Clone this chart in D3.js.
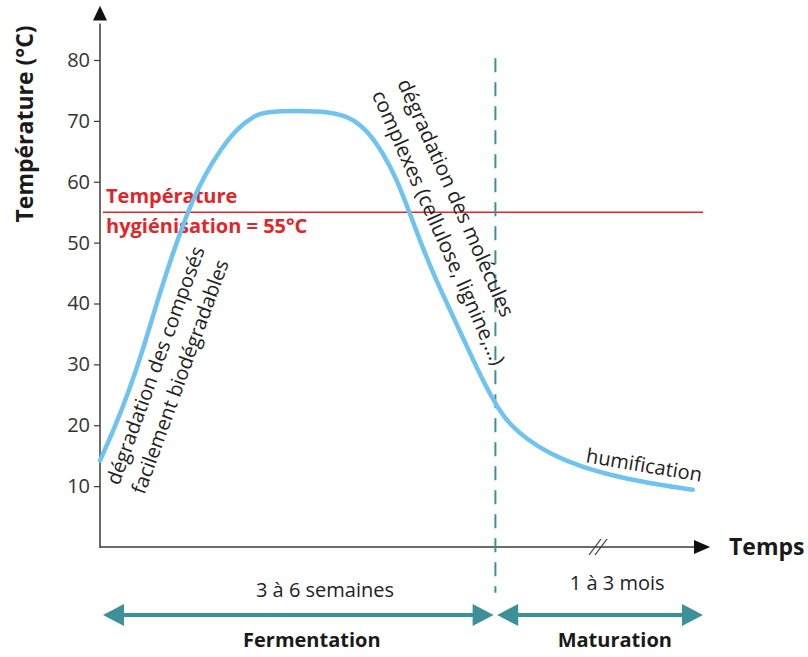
<!DOCTYPE html>
<html>
<head>
<meta charset="utf-8">
<script src="https://cdn.jsdelivr.net/npm/d3@7/dist/d3.min.js"></script>
<style>
  html, body { margin: 0; padding: 0; background: #fff; }
  svg { display: block; font-family: "Open Sans", "Noto Sans", sans-serif; }
</style>
</head>
<body>
<svg id="chart" width="808" height="657"></svg>
<script>
// ---- data ----
const timeValues = [0, 2.5, 4.7, 7, 9.2, 11.3, 13.7, 15.3, 17.5, 20.3, 23, 25.8, 27.5, 33, 38.3, 41.7, 44.5, 47.2, 49.5, 51.2, 53.3, 55.5, 57.8, 60, 62.2, 64.5, 66.7, 68.5, 71, 75, 80, 86.7, 93.3, 98.8];
const tempValues = [14.2, 19.7, 25.3, 31.9, 39.2, 45.8, 52.6, 56.6, 61.2, 65.6, 68.9, 70.9, 71.5, 71.7, 71.5, 70.6, 68.5, 64.7, 60.3, 55.9, 50.4, 45, 40.1, 35.4, 30.7, 26, 22.2, 20, 17.8, 15.3, 13.2, 11.4, 10.2, 9.4];
const yTicks = [10, 20, 30, 40, 50, 60, 70, 80];
const hygieneTemp = 55;
const phaseBoundary = 65.9;     // fermentation / maturation split (time units)
const breakTime = 83;           // axis break "//"
const phaseNames = ["Fermentation", "Maturation"];
const phaseDurations = ["3 à 6 semaines", "1 à 3 mois"];
const phaseStarts = [0.5, 66.2];
const phaseEnds = [65.6, 100.5];

// ---- scales ----
const x = d3.scaleLinear().domain([0, 100]).range([100, 700]);
const y = d3.scaleLinear().domain([0, 80]).range([547, 60]);

const svg = d3.select("#chart");
const axisColor = "#3a3a3a";
const teal = "#3c9098";
const blue = "#6fc3ef";
const red = "#e0262b";

// ---- y axis ----
const yAxis = d3.axisLeft(y).tickValues(yTicks).tickSize(6).tickPadding(4);
const gy = svg.append("g").attr("transform", `translate(${x(0)},0)`).call(yAxis);
gy.select(".domain").remove();
gy.selectAll(".tick line").attr("stroke", axisColor).attr("stroke-width", 1.2);
gy.selectAll(".tick text").attr("fill", "#333").style("font-size", "20px")
  .style("font-family", "'Open Sans', sans-serif");

// axis lines
svg.append("line").attr("x1", x(0)).attr("x2", x(0)).attr("y1", y(0) + 1).attr("y2", y(86))
  .attr("stroke", axisColor).attr("stroke-width", 1.5);
svg.append("path")
  .attr("d", `M${x(0)},${y(88.9)} L${x(0) - 7},${y(86.5)} L${x(0) + 7},${y(86.5)} Z`)
  .attr("fill", "#111");

svg.append("line").attr("x1", x(0)).attr("x2", x(99)).attr("y1", y(0)).attr("y2", y(0))
  .attr("stroke", axisColor).attr("stroke-width", 1.5);
svg.append("path")
  .attr("d", `M${x(101.7)},${y(0)} L${x(99)},${y(0) - 7} L${x(99)},${y(0) + 7} Z`)
  .attr("fill", "#111");

// axis break
[-3, 3].forEach(o => {
  svg.append("line")
    .attr("x1", x(breakTime) + o - 6).attr("y1", y(0) + 8)
    .attr("x2", x(breakTime) + o + 6).attr("y2", y(0) - 8)
    .attr("stroke", axisColor).attr("stroke-width", 1.2);
});

// axis titles
svg.append("text")
  .attr("transform", `translate(33,${y(69.5)}) rotate(-90)`)
  .attr("text-anchor", "middle")
  .style("font-size", "23px").style("font-weight", "bold").attr("fill", "#1a1a1a")
  .text("Température (°C)");
svg.append("text")
  .attr("x", 729).attr("y", y(0) + 8)
  .style("font-size", "23px").style("font-weight", "bold").attr("fill", "#1a1a1a")
  .text("Temps");

// ---- hygiene line ----
svg.append("line")
  .attr("x1", x(0.5)).attr("x2", x(100.5))
  .attr("y1", y(hygieneTemp)).attr("y2", y(hygieneTemp))
  .attr("stroke", red).attr("stroke-width", 1.6);
svg.append("text").attr("x", 106).attr("y", y(hygieneTemp) - 9)
  .style("font-size", "20px").style("font-weight", "bold").attr("fill", red)
  .text("Température");
svg.append("text").attr("x", 106).attr("y", y(hygieneTemp) + 21)
  .style("font-size", "20px").style("font-weight", "bold").attr("fill", red)
  .text("hygiénisation = 55°C");

// ---- phase boundary (dashed) ----
svg.append("line")
  .attr("x1", x(phaseBoundary)).attr("x2", x(phaseBoundary))
  .attr("y1", y(80.3)).attr("y2", y(-7.5))
  .attr("stroke", teal).attr("stroke-width", 2)
  .attr("stroke-dasharray", "14,10");

// ---- temperature curve ----
const pts = timeValues.map((t, i) => [t, tempValues[i]]);
svg.append("path")
  .datum(pts)
  .attr("fill", "none")
  .attr("stroke", blue)
  .attr("stroke-width", 4.5)
  .attr("stroke-linecap", "round")
  .attr("d", d3.line().x(d => x(d[0])).y(d => y(d[1])).curve(d3.curveBasis));

// ---- annotations ----
const ann1 = svg.append("g").attr("transform", "translate(119,486) rotate(-70)")
  .attr("text-anchor", "start").style("font-size", "20px").attr("fill", "#222");
ann1.append("text").attr("y", 0).text("dégradation des composés");
ann1.append("text").attr("y", 27).text("facilement biodégradables");

const ann2 = svg.append("g").attr("transform", "translate(397,83) rotate(66)")
  .attr("text-anchor", "start").style("font-size", "20.5px").attr("fill", "#222");
ann2.append("text").attr("y", 0).text("dégradation des molécules");
ann2.append("text").attr("y", 28).text("complexes (cellulose, lignine,...)");

svg.append("text")
  .attr("transform", "translate(643,472) rotate(9.5)")
  .attr("text-anchor", "middle").style("font-size", "20px").attr("fill", "#222")
  .text("humification");

// ---- phase arrows ----
const arrowY = 615;
const durationLabelT = [37.5, 86.2];
const nameLabelT = [35.3, 85.8];
phaseNames.forEach((name, i) => {
  const x1 = x(phaseStarts[i]), x2 = x(phaseEnds[i]);
  const g = svg.append("g");
  g.append("line").attr("x1", x1 + 18).attr("x2", x2 - 18)
    .attr("y1", arrowY).attr("y2", arrowY)
    .attr("stroke", teal).attr("stroke-width", 4);
  g.append("path").attr("d", `M${x1},${arrowY} L${x1 + 21},${arrowY - 11} L${x1 + 21},${arrowY + 11} Z`).attr("fill", teal);
  g.append("path").attr("d", `M${x2},${arrowY} L${x2 - 21},${arrowY - 11} L${x2 - 21},${arrowY + 11} Z`).attr("fill", teal);
  svg.append("text").attr("x", x(durationLabelT[i])).attr("y", i === 0 ? 597 : 590)
    .attr("text-anchor", "middle").style("font-size", "20px").attr("fill", "#222")
    .text(phaseDurations[i]);
  svg.append("text").attr("x", x(nameLabelT[i])).attr("y", 647)
    .attr("text-anchor", "middle").style("font-size", "20px").style("font-weight", "bold").attr("fill", "#1a1a1a")
    .text(name);
});
</script>
</body>
</html>
